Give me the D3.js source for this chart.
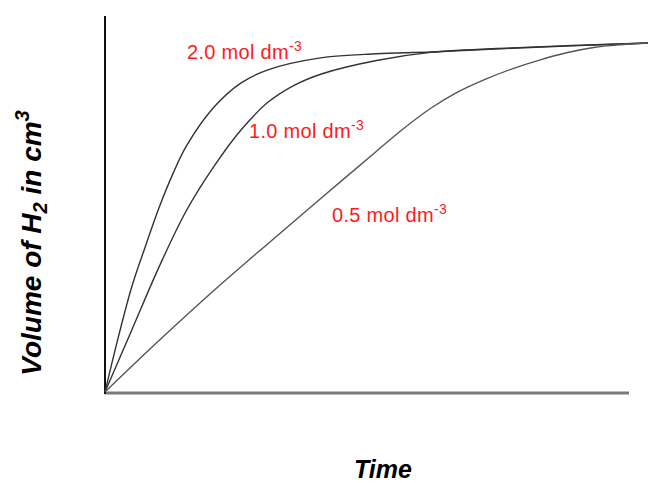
<!DOCTYPE html>
<html>
<head>
<meta charset="utf-8">
<script src="https://cdn.jsdelivr.net/npm/d3@7"></script>
<style>
  html, body { margin: 0; padding: 0; background: #fff; }
  svg { display: block; }
</style>
</head>
<body>
<svg id="chart" width="648" height="483"></svg>
<script>
// ---- data ----
const series = ["2.0", "1.0", "0.5"];
const time20 = [0, 2.5, 5, 7.5, 10, 12.5, 15, 20, 25, 30, 40, 50, 60, 75, 100];
const vol20  = [0, 16, 30.5, 42, 53, 62.5, 70.5, 81.5, 88.5, 92.3, 95.8, 96.9, 97.4, 98.5, 100];
const time10 = [0, 5, 10, 15, 20, 25, 30, 35, 40, 50, 60, 75, 100];
const vol10  = [0, 18, 36, 52, 64.5, 75, 83, 88, 91.2, 95, 97.3, 98.6, 100];
const time05 = [0, 10, 20, 30, 40, 50, 55, 60, 65, 70, 75, 80, 85, 90, 95, 100];
const vol05  = [0, 14.8, 29, 42.5, 55.8, 69, 75.5, 81.3, 86, 89.6, 92.6, 95.1, 97.2, 98.7, 99.5, 100];
const seriesLabels = ["2.0 mol dm", "1.0 mol dm", "0.5 mol dm"];
const unitPower = "-3";
const xTitle = "Time";

const svg = d3.select("#chart");
const x = d3.scaleLinear().domain([0, 100]).range([105, 648]);
const y = d3.scaleLinear().domain([0, 100]).range([392, 43]);

const data = [
  d3.zip(time20, vol20),
  d3.zip(time10, vol10),
  d3.zip(time05, vol05)
];

const line = d3.line().x(d => x(d[0])).y(d => y(d[1])).curve(d3.curveCatmullRom.alpha(0.5));

// axes
svg.append("line").attr("x1", 105).attr("x2", 629).attr("y1", 393).attr("y2", 393)
  .attr("stroke", "#7a7a7a").attr("stroke-width", 3);
svg.append("line").attr("x1", 105).attr("x2", 105).attr("y1", 16).attr("y2", 394)
  .attr("stroke", "#111").attr("stroke-width", 2);

// curves
svg.selectAll("path.curve").data(data).enter().append("path")
  .attr("class", "curve")
  .attr("d", line)
  .attr("fill", "none")
  .attr("stroke", (d, i) => i === 2 ? "#555" : "#333")
  .attr("stroke-width", 1.4);

// labels
const labelPos = [[187, 59], [249, 138], [332, 222]];
seriesLabels.forEach((lab, i) => {
  const t = svg.append("text")
    .attr("x", labelPos[i][0]).attr("y", labelPos[i][1])
    .attr("fill", "#ff1a1a")
    .attr("font-family", "Liberation Sans, Arial, sans-serif")
    .attr("font-size", 20)
    .attr("letter-spacing", 0.3);
  t.append("tspan").text(lab);
  t.append("tspan").attr("dy", -8).attr("font-size", 14).text(unitPower);
});

// x title
svg.append("text")
  .attr("x", 383).attr("y", 478)
  .attr("text-anchor", "middle")
  .attr("font-family", "Liberation Sans, Arial, sans-serif")
  .attr("font-weight", "bold").attr("font-style", "italic")
  .attr("font-size", 25)
  .text(xTitle);

// y title
const yt = svg.append("text")
  .attr("transform", "translate(41,243) rotate(-90)")
  .attr("text-anchor", "middle")
  .attr("font-family", "Liberation Sans, Arial, sans-serif")
  .attr("font-weight", "bold").attr("font-style", "italic")
  .attr("font-size", 28);
yt.append("tspan").text("Volume of H");
yt.append("tspan").attr("dy", 6).attr("font-size", 20).text("2");
yt.append("tspan").attr("dy", -6).text(" in cm");
yt.append("tspan").attr("dy", -12).attr("font-size", 20).text("3");
</script>
</body>
</html>
